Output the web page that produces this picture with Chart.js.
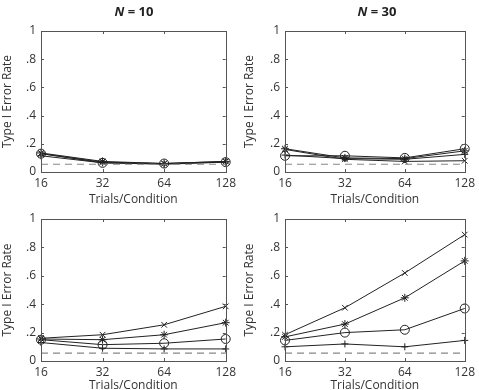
<!DOCTYPE html>
<html>
<head>
<meta charset="utf-8">
<script src="https://cdn.jsdelivr.net/npm/chart.js@4.4.1/dist/chart.umd.min.js"></script>
<style>
  html, body { margin:0; padding:0; background:#fff; }
  #wrap { position:relative; width:479px; height:390px; overflow:hidden; }
  canvas { position:absolute; }
  .ttl { position:absolute; top:2px; width:160px; text-align:center; font-family:"Open Sans", sans-serif; font-weight:bold; font-size:13px; color:#222; }
</style>
</head>
<body>
<div id="wrap">
  <canvas id="c1" width="240" height="207" style="left:0;top:0"></canvas>
  <canvas id="c2" width="239" height="207" style="left:240px;top:0"></canvas>
  <canvas id="c3" width="240" height="193" style="left:0;top:200px"></canvas>
  <canvas id="c4" width="239" height="193" style="left:240px;top:200px"></canvas>
  <div class="ttl" id="t1" style="left:54px"></div>
  <div class="ttl" id="t2" style="left:297px"></div>
</div>
<script>
// ---- data ----
const xLabels = ['16', '32', '64', '128'];
const yTickLabels = ['0', '.2', '.4', '.6', '.8', '1'];
const columnN = ['10', '30'];
const xAxisTitle = 'Trials/Condition';
const yAxisTitle = 'Type I Error Rate';

const alphaLine = [0.055, 0.055, 0.055, 0.055];

// top-left (N = 10)
const tlCircle = [0.13, 0.065, 0.06, 0.07];
const tlX      = [0.13, 0.07, 0.06, 0.075];
const tlStar   = [0.135, 0.075, 0.06, 0.075];
const tlPlus   = [0.115, 0.065, 0.055, 0.07];

// top-right (N = 30)
const trCircle = [0.115, 0.115, 0.10, 0.165];
const trX      = [0.16, 0.09, 0.075, 0.08];
const trStar   = [0.165, 0.10, 0.095, 0.15];
const trPlus   = [0.12, 0.095, 0.09, 0.125];

// bottom-left
const blCircle = [0.15, 0.115, 0.125, 0.155];
const blX      = [0.16, 0.185, 0.255, 0.385];
const blStar   = [0.155, 0.15, 0.185, 0.27];
const blPlus   = [0.13, 0.09, 0.085, 0.085];

// bottom-right
const brCircle = [0.145, 0.20, 0.22, 0.37];
const brX      = [0.185, 0.375, 0.62, 0.89];
const brStar   = [0.17, 0.26, 0.445, 0.705];
const brPlus   = [0.10, 0.12, 0.10, 0.145];

// ---- titles ----
document.getElementById('t1').innerHTML = '<i>N</i> = ' + columnN[0];
document.getElementById('t2').innerHTML = '<i>N</i> = ' + columnN[1];

const FONT = '"Open Sans", sans-serif';
const LINE = '#222';

const boxPlugin = {
  id: 'box',
  afterDatasetsDraw(chart) {
    const ctx = chart.ctx, a = chart.chartArea;
    const xs = chart.scales.x, ys = chart.scales.y;
    ctx.save();
    ctx.strokeStyle = '#555';
    ctx.lineWidth = 1;
    ctx.setLineDash([]);
    ctx.strokeRect(Math.round(a.left) + 0.5, Math.round(a.top) + 0.5,
                   Math.round(a.right - a.left), Math.round(a.bottom - a.top));
    ctx.beginPath();
    xs.ticks.forEach((t, i) => {
      const px = Math.round(xs.getPixelForTick(i)) + 0.5;
      ctx.moveTo(px, a.bottom); ctx.lineTo(px, a.bottom - 3);
      ctx.moveTo(px, a.top); ctx.lineTo(px, a.top + 3);
    });
    ys.ticks.forEach((t, i) => {
      const py = Math.round(ys.getPixelForTick(i)) + 0.5;
      ctx.moveTo(a.left, py); ctx.lineTo(a.left + 3, py);
      ctx.moveTo(a.right, py); ctx.lineTo(a.right - 3, py);
    });
    ctx.stroke();
    ctx.restore();
  }
};

function series(data, style, radius) {
  return {
    data: data,
    borderColor: LINE,
    backgroundColor: 'rgba(0,0,0,0)',
    borderWidth: 1,
    pointStyle: style,
    pointRadius: radius,
    pointBorderColor: LINE,
    pointBorderWidth: 1,
    pointBackgroundColor: 'rgba(0,0,0,0)',
    tension: 0,
    fill: false
  };
}

function makeChart(id, sets, opts) {
  const datasets = [
    {
      data: alphaLine,
      borderColor: '#888',
      borderWidth: 1.2,
      borderDash: [7, 5],
      pointRadius: 0,
      fill: false
    },
    series(sets[3], 'cross', 3.5),
    series(sets[0], 'circle', 4.5),
    series(sets[1], 'crossRot', 4),
    series(sets[2], 'star', 4)
  ];
  return new Chart(document.getElementById(id), {
    type: 'line',
    data: { labels: xLabels, datasets: datasets },
    plugins: [boxPlugin],
    options: {
      responsive: false,
      animation: false,
      devicePixelRatio: 1,
      layout: { padding: { top: opts.top, right: opts.right, left: 0, bottom: 0 } },
      plugins: { legend: { display: false }, tooltip: { enabled: false }, title: { display: false } },
      scales: {
        x: {
          type: 'category',
          offset: false,
          grid: { display: false, drawTicks: false },
          border: { display: false },
          ticks: { color: '#333', font: { family: FONT, size: 12 }, padding: 4, maxRotation: 0, autoSkip: false },
          title: { display: true, text: xAxisTitle, color: '#333', font: { family: FONT, size: 12 }, padding: 0 },
          afterFit(s) { s.height = opts.xh; }
        },
        y: {
          min: 0, max: 1,
          grid: { display: false, drawTicks: false },
          border: { display: false },
          ticks: {
            stepSize: 0.2,
            color: '#333',
            font: { family: FONT, size: 12 },
            padding: 5,
            callback: function (v, i) { return yTickLabels[i]; }
          },
          title: { display: true, text: yAxisTitle, color: '#333', font: { family: FONT, size: 12 }, padding: { top: opts.yt, bottom: 0 } },
          afterFit(s) { s.width = opts.yw; }
        }
      }
    }
  });
}

makeChart('c1', [tlCircle, tlX, tlStar, tlPlus], { top: 31, right: 13, xh: 35, yw: 41, yt: 0 });
makeChart('c2', [trCircle, trX, trStar, trPlus], { top: 31, right: 11, xh: 35, yw: 45, yt: 2 });
makeChart('c3', [blCircle, blX, blStar, blPlus], { top: 19, right: 13, xh: 32, yw: 41, yt: 0 });
makeChart('c4', [brCircle, brX, brStar, brPlus], { top: 19, right: 11, xh: 32, yw: 45, yt: 2 });
</script>
</body>
</html>
